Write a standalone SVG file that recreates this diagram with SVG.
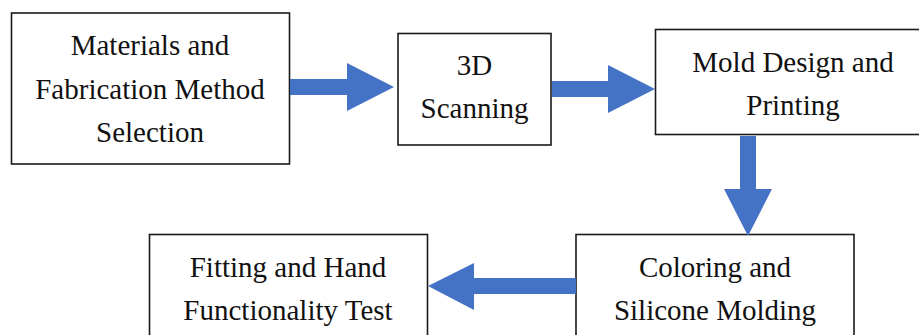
<svg xmlns="http://www.w3.org/2000/svg" width="919" height="335" viewBox="0 0 919 335">
  <style>
    .box { fill: #ffffff; stroke: #1a1a1a; stroke-width: 1.6; }
    .lbl { font-family: "Liberation Serif", "Times New Roman", serif; font-size: 29px; fill: #111111; text-anchor: middle; }
    .arrow { fill: #4472C4; stroke: none; }
  </style>
  <rect x="0" y="0" width="919" height="335" fill="#ffffff"/>
  <g id="node-materials">
    <rect class="box" x="11.5" y="13" width="278" height="151"/>
    <text class="lbl" x="150" y="55">Materials and</text>
    <text class="lbl" x="150" y="98.5">Fabrication Method</text>
    <text class="lbl" x="150" y="142">Selection</text>
  </g>
  <g id="node-scanning">
    <rect class="box" x="398" y="33.5" width="153" height="111.5"/>
    <text class="lbl" x="474.5" y="75">3D</text>
    <text class="lbl" x="474.5" y="118">Scanning</text>
  </g>
  <g id="node-mold">
    <rect class="box" x="655.5" y="29.5" width="276" height="105"/>
    <text class="lbl" x="793" y="72">Mold Design and</text>
    <text class="lbl" x="793" y="115">Printing</text>
  </g>
  <g id="node-coloring">
    <rect class="box" x="576" y="234.5" width="278" height="110"/>
    <text class="lbl" x="715" y="277">Coloring and</text>
    <text class="lbl" x="715" y="320">Silicone Molding</text>
  </g>
  <g id="node-fitting">
    <rect class="box" x="149.5" y="234.5" width="278" height="110"/>
    <text class="lbl" x="288" y="277">Fitting and Hand</text>
    <text class="lbl" x="288" y="320">Functionality Test</text>
  </g>
  <g id="connectors">
    <polygon class="arrow" points="290,79 347,79 347,63 394,87 347,111 347,95 290,95"/>
    <polygon class="arrow" points="552,81 608,81 608,65 655,89 608,113 608,97 552,97"/>
    <polygon class="arrow" points="740,136 756,136 756,189 772,189 748,236 724,189 740,189"/>
    <polygon class="arrow" points="576,278 474,278 474,263 428,286 474,310 474,294 576,294"/>
  </g>
</svg>
